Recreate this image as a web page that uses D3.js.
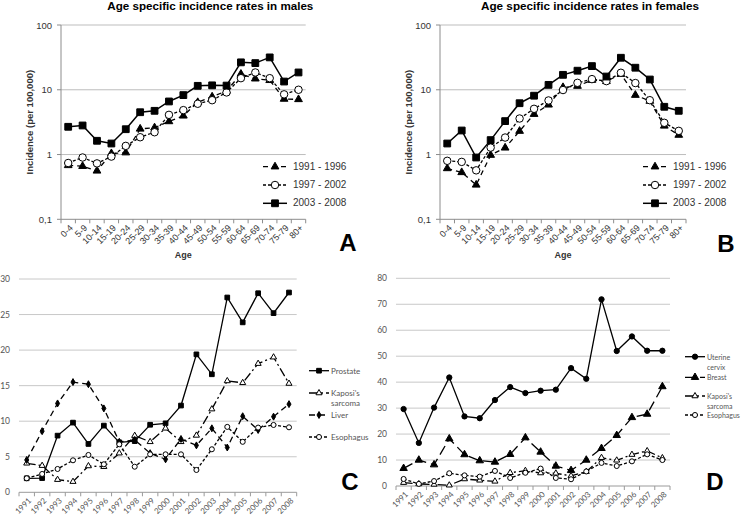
<!DOCTYPE html>
<html>
<head>
<meta charset="utf-8">
<script src="https://cdn.jsdelivr.net/npm/d3@7"></script>
<style>
  body { margin: 0; background: #fff; }
  svg { display: block; }
</style>
</head>
<body>
<svg id="chart" width="742" height="521"></svg>
<script>
// ---- data ----
const ageGroups = ["0-4", "5-9", "10-14", "15-19", "20-24", "25-29", "30-34", "35-39", "40-44",
                   "45-49", "50-54", "55-59", "60-64", "65-69", "70-74", "75-79", "80+"];
const logTicks = [0.1, 1, 10, 100];

const males9196 = [0.68, 0.66, 0.56, 1.04, 1.07, 2.49, 2.6, 3.24, 3.96, 6.4, 7.8, 9.6, 17.5, 14.8, 14.0, 7.2, 7.1];
const males9702 = [0.74, 0.9, 0.73, 0.93, 1.36, 1.85, 2.21, 4.1, 4.85, 6.08, 6.9, 9.1, 15.1, 18.5, 15.1, 8.5, 10.0];
const males0308 = [2.68, 2.81, 1.63, 1.48, 2.46, 4.5, 4.73, 6.6, 8.27, 11.5, 11.7, 11.6, 26.5, 25.8, 31.6, 13.4, 18.5];

const females9196 = [0.61, 0.53, 0.34, 0.98, 1.27, 2.3, 4.2, 5.86, 10.9, 11.4, 14.1, 13.5, 17.4, 8.27, 6.7, 2.77, 2.0];
const females9702 = [0.8, 0.77, 0.57, 1.28, 1.83, 3.6, 5.08, 6.84, 9.9, 12.8, 14.6, 13.6, 18.3, 12.7, 6.9, 3.09, 2.32];
const females0308 = [1.48, 2.35, 0.9, 1.67, 3.28, 6.2, 8.1, 11.9, 17.0, 19.7, 23.2, 16.0, 31.2, 21.9, 14.4, 5.46, 4.73];

const periodNames = ["1991 - 1996", "1997 - 2002", "2003 - 2008"];

const years = ["1991", "1992", "1993", "1994", "1995", "1996", "1997", "1998", "1999",
               "2000", "2001", "2002", "2003", "2004", "2005", "2006", "2007", "2008"];
const ticksC = [0, 5, 10, 15, 20, 25, 30];
const ticksD = [0, 10, 20, 30, 40, 50, 60, 70, 80];

const prostate      = [1.97, 2.0, 7.97, 9.8, 6.8, 9.38, 7.03, 7.2, 9.5, 9.7, 12.2, 19.4, 16.6, 27.4, 23.9, 28.0, 25.2, 28.1];
const kaposiMale    = [4.08, 3.75, 1.78, 1.5, 3.7, 3.6, 5.5, 7.97, 7.1, 9.0, 7.1, 8.0, 11.7, 15.66, 15.4, 18.1, 19.0, 15.3];
const liver         = [4.55, 8.6, 12.5, 15.5, 15.2, 11.8, 7.1, 7.36, 5.5, 4.64, 7.5, 6.6, 9.0, 6.3, 10.7, 8.77, 10.64, 12.4];
const esophagusMale = [1.97, 2.58, 3.28, 4.5, 5.25, 3.94, 6.75, 3.6, 5.34, 5.34, 5.34, 3.14, 6.05, 9.2, 7.1, 9.1, 9.47, 9.14];

const cervix          = [29.65, 16.6, 30.2, 41.8, 26.8, 26.1, 33.1, 38.1, 35.8, 36.7, 37.1, 45.4, 41.3, 71.9, 52.0, 57.6, 52.1, 52.1];
const breast          = [6.8, 10.0, 8.2, 18.2, 12.1, 9.76, 9.24, 12.2, 18.6, 13.1, 7.7, 6.0, 10.0, 14.5, 19.5, 26.4, 27.7, 38.3];
const kaposiFemale    = [1.3, 0.8, 0.6, 0.3, 2.7, 2.2, 1.8, 5.1, 5.9, 5.0, 4.9, 3.9, 5.5, 10.9, 9.9, 12.1, 13.5, 10.8];
const esophagusFemale = [2.7, 0.8, 1.9, 4.9, 4.1, 3.6, 5.8, 3.1, 5.1, 6.7, 3.1, 2.6, 5.6, 8.9, 7.7, 9.5, 12.2, 10.0];

// ---- drawing ----
const svg = d3.select("#chart");
const font = "Liberation Sans, Arial, sans-serif";
const fontC = "Lato, Liberation Sans, sans-serif";

function marker(g, kind, x, y, size) {
    const types = {
        square: d3.symbolSquare, circle: d3.symbolCircle, circleOpen: d3.symbolCircle,
        triangle: d3.symbolTriangle, triangleOpen: d3.symbolTriangle, diamond: d3.symbolDiamond
    };
    const open = kind.endsWith("Open");
    g.append("path")
     .attr("d", d3.symbol().type(types[kind]).size(size)())
     .attr("transform", "translate(" + x + "," + y + ")")
     .attr("fill", open ? "#fff" : "#000")
     .attr("stroke", "#000")
     .attr("stroke-width", 1);
}

function drawSeries(g, cats, x, y, values, style) {
    const line = d3.line()
                   .x(function (d, i) { return x(cats[i]) + x.bandwidth() / 2; })
                   .y(function (d) { return y(d); });
    g.append("path")
     .datum(values)
     .attr("d", line)
     .attr("fill", "none")
     .attr("stroke", "#000")
     .attr("stroke-width", style.width || 1.3)
     .attr("stroke-dasharray", style.dash);
    values.forEach(function (v, i) {
        marker(g, style.marker, x(cats[i]) + x.bandwidth() / 2, y(v), style.size);
    });
}

function legendRow(g, x0, x1, tx, yy, lines, style) {
    g.append("line")
     .attr("x1", x0).attr("x2", x1).attr("y1", yy).attr("y2", yy)
     .attr("stroke", "#000").attr("stroke-width", style.width || 1.3)
     .attr("stroke-dasharray", style.dash);
    marker(g, style.marker, (x0 + x1) / 2, yy, style.size);
    lines.forEach(function (t, i) {
        g.append("text").attr("x", tx).attr("y", yy + 3 + i * 10)
         .text(t);
    });
}

// ---- panels A & B (log scale) ----
const ageStyles = [
    {dash: "5,4", marker: "triangle", size: 26},
    {dash: "3,2", marker: "circleOpen", size: 44},
    {dash: null, marker: "square", size: 46, width: 1.5}
];

function drawAgePanel(opts) {
    const g = svg.append("g").style("font-family", font);
    const x = d3.scaleBand().domain(ageGroups).range([opts.left, opts.right]);
    const y = d3.scaleLog().domain([0.1, 100]).range([219.3, 25]);

    g.selectAll("line.grid")
     .data(logTicks.slice(1))
     .enter().append("line")
     .attr("x1", opts.left).attr("x2", opts.right)
     .attr("y1", function (d) { return y(d); }).attr("y2", function (d) { return y(d); })
     .attr("stroke", "#bdbdbd").attr("stroke-width", 1);

    g.append("line").attr("x1", opts.left).attr("x2", opts.left)
     .attr("y1", y(100)).attr("y2", y(0.1)).attr("stroke", "#8c8c8c");
    g.append("line").attr("x1", opts.left).attr("x2", opts.right)
     .attr("y1", y(0.1)).attr("y2", y(0.1)).attr("stroke", "#8c8c8c");

    // tick marks between categories
    ageGroups.concat([null]).forEach(function (c) {
        const xx = c === null ? opts.right : x(c);
        g.append("line").attr("x1", xx).attr("x2", xx)
         .attr("y1", y(0.1)).attr("y2", y(0.1) + 4).attr("stroke", "#8c8c8c");
    });
    logTicks.forEach(function (t) {
        g.append("line").attr("x1", opts.left - 4).attr("x2", opts.left)
         .attr("y1", y(t)).attr("y2", y(t)).attr("stroke", "#8c8c8c");
    });

    g.selectAll("text.ytick")
     .data(logTicks)
     .enter().append("text")
     .attr("x", opts.left - 9).attr("y", function (d) { return y(d) + 3.5; })
     .attr("text-anchor", "end").style("font-size", "9.5px").attr("fill", "#333")
     .text(function (d) { return d < 1 ? String(d).replace(".", ",") : d; });

    g.selectAll("text.xtick")
     .data(ageGroups)
     .enter().append("text")
     .attr("transform", function (d) {
         return "translate(" + (x(d) + x.bandwidth() / 2 + 3) + "," + (y(0.1) + 7) + ") rotate(-45)";
     })
     .attr("text-anchor", "end").attr("dy", "0.35em")
     .style("font-size", "9px").attr("fill", "#333")
     .text(function (d) { return d; });

    g.append("text").attr("x", (opts.left + opts.right) / 2 + opts.titleShift).attr("y", 10)
     .attr("text-anchor", "middle").style("font-size", "11.5px").style("font-weight", "bold")
     .attr("textLength", opts.titleWidth).attr("lengthAdjust", "spacingAndGlyphs")
     .text(opts.title);
    g.append("text")
     .attr("transform", "translate(" + (opts.left - 28) + "," + ((y(100) + y(0.1)) / 2) + ") rotate(-90)")
     .attr("text-anchor", "middle").style("font-size", "9.5px").style("font-weight", "bold")
     .attr("fill", "#333")
     .text("Incidence (per 100,000)");
    g.append("text").attr("x", (opts.left + opts.right) / 2).attr("y", 258)
     .attr("text-anchor", "middle").style("font-size", "9px").style("font-weight", "bold")
     .attr("fill", "#333").text("Age");

    opts.series.forEach(function (s, i) {
        drawSeries(g, ageGroups, x, y, s, ageStyles[i]);
    });

    const lg = g.append("g").style("font-size", "10px").attr("fill", "#333");
    periodNames.forEach(function (p, i) {
        legendRow(lg, opts.legX, opts.legX + 24, opts.legX + 30, 166.7 + i * 18.3, [p], ageStyles[i]);
    });

    g.append("text").attr("x", opts.letterX).attr("y", opts.letterY)
     .attr("text-anchor", "middle").style("font-size", "24px").style("font-weight", "bold")
     .text(opts.letter);
}

drawAgePanel({left: 61, right: 305.7, title: "Age specific incidence rates in males", titleShift: 27, titleWidth: 206,
              series: [males9196, males9702, males0308], legX: 263, letter: "A", letterX: 348, letterY: 251});
drawAgePanel({left: 440, right: 686, title: "Age specific incidence rates in females", titleShift: 27, titleWidth: 218,
              series: [females9196, females9702, females0308], legX: 643, letter: "B", letterX: 726, letterY: 252});

// ---- panels C & D (linear) ----
function drawYearPanel(opts) {
    const g = svg.append("g").style("font-family", fontC);
    const x = d3.scaleBand().domain(years).range([opts.left, opts.right]);
    const y = d3.scaleLinear().domain([0, opts.ticks[opts.ticks.length - 1]]).range([opts.bottom, opts.top]);

    g.selectAll("line.grid")
     .data(opts.ticks.slice(1))
     .enter().append("line")
     .attr("x1", opts.left).attr("x2", opts.right)
     .attr("y1", function (d) { return y(d); }).attr("y2", function (d) { return y(d); })
     .attr("stroke", "#c8c8c8").attr("stroke-width", 1);
    g.append("line").attr("x1", opts.left).attr("x2", opts.right)
     .attr("y1", y(0)).attr("y2", y(0)).attr("stroke", "#9a9a9a");
    years.concat([null]).forEach(function (c) {
        const xx = c === null ? opts.right : x(c);
        g.append("line").attr("x1", xx).attr("x2", xx)
         .attr("y1", y(0)).attr("y2", y(0) + 4).attr("stroke", "#9a9a9a");
    });

    g.selectAll("text.ytick")
     .data(opts.ticks)
     .enter().append("text")
     .attr("x", opts.left - 9).attr("y", function (d) { return y(d) + 3; })
     .attr("text-anchor", "end").style("font-size", "8.5px").attr("fill", "#555")
     .text(function (d) { return d; });

    g.selectAll("text.xtick")
     .data(years)
     .enter().append("text")
     .attr("transform", function (d) {
         return "translate(" + (x(d) + x.bandwidth() / 2 + 3) + "," + (y(0) + 7) + ") rotate(-45)";
     })
     .attr("text-anchor", "end").attr("dy", "0.35em")
     .style("font-size", "8px").attr("fill", "#555")
     .text(function (d) { return d; });

    opts.series.forEach(function (s, i) {
        drawSeries(g, years, x, y, s, opts.styles[i]);
    });

    const lg = g.append("g").style("font-size", opts.legFont).attr("fill", "#555");
    opts.legend.forEach(function (l, i) {
        legendRow(lg, opts.legX, opts.legX + 20, opts.legX + 22, l.y, l.text, opts.styles[i]);
    });

    g.append("text").attr("x", opts.letterX).attr("y", opts.letterY)
     .attr("text-anchor", "middle").style("font-size", "24px").style("font-weight", "bold")
     .style("font-family", font)
     .text(opts.letter);
}

drawYearPanel({
    left: 19, right: 296.7, top: 279, bottom: 492.3, ticks: ticksC,
    series: [prostate, kaposiMale, liver, esophagusMale],
    styles: [
        {dash: null, marker: "square", size: 22},
        {dash: "9,3,2,3", marker: "triangleOpen", size: 16},
        {dash: "6,4", marker: "diamond", size: 14},
        {dash: "3,2", marker: "circleOpen", size: 20}
    ],
    legend: [
        {y: 370.7, text: ["Prostate"]},
        {y: 393, text: ["Kaposi's", "sarcoma"]},
        {y: 415, text: ["Liver"]},
        {y: 437, text: ["Esophagus"]}
    ],
    legX: 309, legFont: "8px", letter: "C", letterX: 350, letterY: 490
});

drawYearPanel({
    left: 396, right: 670, top: 278.3, bottom: 486, ticks: ticksD,
    series: [cervix, breast, kaposiFemale, esophagusFemale],
    styles: [
        {dash: null, marker: "circle", size: 22},
        {dash: "10,5", marker: "triangle", size: 24},
        {dash: "9,3,2,3", marker: "triangleOpen", size: 16},
        {dash: "3,2", marker: "circleOpen", size: 20}
    ],
    legend: [
        {y: 356.7, text: ["Uterine", "cervix"]},
        {y: 377.3, text: ["Breast"]},
        {y: 396, text: ["Kaposi's", "sarcoma"]},
        {y: 415, text: ["Esophagus"]}
    ],
    legX: 685, legFont: "7px", letter: "D", letterX: 715, letterY: 490
});
</script>
</body>
</html>
